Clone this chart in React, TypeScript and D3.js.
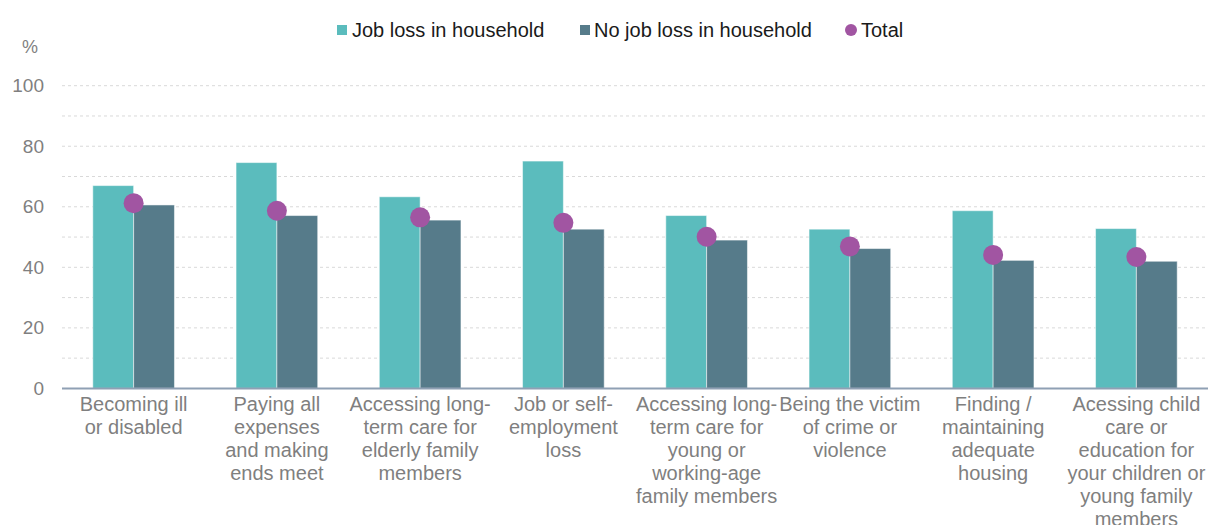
import React from "react";
import * as d3 from "d3";

const categories: string[][] = [
  ["Becoming ill", "or disabled"],
  ["Paying all", "expenses", "and making", "ends meet"],
  ["Accessing long-", "term care for", "elderly family", "members"],
  ["Job or self-", "employment", "loss"],
  ["Accessing long-", "term care for", "young or", "working-age", "family members"],
  ["Being the victim", "of crime or", "violence"],
  ["Finding /", "maintaining", "adequate", "housing"],
  ["Acessing child", "care or", "education for", "your children or", "young family", "members"],
];
const jobLoss = [67.0, 74.6, 63.3, 75.1, 57.1, 52.6, 58.7, 52.8];
const noJobLoss = [60.6, 57.1, 55.6, 52.6, 49.0, 46.2, 42.3, 42.0];
const total = [61.2, 58.7, 56.5, 54.7, 50.1, 46.9, 44.1, 43.4];
const yTicks = [0, 20, 40, 60, 80, 100];
const gridTicks = [10, 20, 30, 40, 50, 60, 70, 80, 90, 100];
const seriesNames = ["Job loss in household", "No job loss in household", "Total"];

const W = 1208;
const H = 525;
const FONT = "Arial, 'Liberation Sans', sans-serif";
const TEAL = "#5bbcbd";
const DARK = "#567b8a";
const PURPLE = "#a155a2";

export default function App() {
  const ids = categories.map((_, i) => String(i));
  const x0 = d3.scaleBand<string>().domain(ids).range([62, 1208]).paddingInner(0.43).paddingOuter(0.215);
  const x1 = d3.scaleBand<string>().domain(["job", "nojob"]).range([0, x0.bandwidth()]);
  const y = d3.scaleLinear().domain([0, 100]).range([388.4, 85.7]);

  const legendItems = [
    { x: 337, tx: 352, color: TEAL, shape: "rect" },
    { x: 580, tx: 594, color: DARK, shape: "rect" },
    { x: 845, tx: 861, color: PURPLE, shape: "circle" },
  ];

  return (
    <svg width={W} height={H} style={{ position: "absolute", left: 0, top: 0, fontFamily: FONT }}>
      <rect width={W} height={H} fill="#ffffff" />
      {gridTicks.map((t) => (
        <line key={t} x1={62} x2={1208} y1={y(t)} y2={y(t)} stroke="#d9d9d9" strokeWidth={1} strokeDasharray="3,3" />
      ))}
      {yTicks.map((t) => (
        <text key={t} x={44} y={y(t)} textAnchor="end" dominantBaseline="central" fontSize={19} fill="#7f7f7f">
          {t}
        </text>
      ))}
      <text x={30} y={53} textAnchor="middle" fontSize={18} fill="#7f7f7f">%</text>

      {ids.map((id, i) => {
        const bx = x0(id)!;
        return (
          <g key={id}>
            <rect x={bx + x1("job")!} y={y(jobLoss[i])} width={x1.bandwidth()} height={y(0) - y(jobLoss[i])} fill={TEAL} stroke="rgba(255,255,255,0.5)" strokeWidth={1} />
            <rect x={bx + x1("nojob")!} y={y(noJobLoss[i])} width={x1.bandwidth()} height={y(0) - y(noJobLoss[i])} fill={DARK} stroke="rgba(255,255,255,0.5)" strokeWidth={1} />
          </g>
        );
      })}
      <line x1={62} x2={1208} y1={y(0)} y2={y(0)} stroke="#8fa0b4" strokeWidth={2} />
      {ids.map((id, i) => (
        <circle key={id} cx={x0(id)! + x0.bandwidth() / 2} cy={y(total[i])} r={10} fill={PURPLE} />
      ))}

      {ids.map((id, i) => (
        <text key={id} x={x0(id)! + x0.bandwidth() / 2} y={411} textAnchor="middle" fontSize={20} fill="#7f7f7f">
          {categories[i].map((ln, j) => (
            <tspan key={j} x={x0(id)! + x0.bandwidth() / 2} y={411 + j * 23}>{ln}</tspan>
          ))}
        </text>
      ))}

      {legendItems.map((it, i) => (
        <g key={i}>
          {it.shape === "rect" ? (
            <rect x={it.x} y={25} width={10} height={10} fill={it.color} />
          ) : (
            <circle cx={it.x + 6} cy={30} r={6} fill={it.color} />
          )}
          <text x={it.tx} y={30} dominantBaseline="central" fontSize={20} fill="#1a1a1a">{seriesNames[i]}</text>
        </g>
      ))}
    </svg>
  );
}
